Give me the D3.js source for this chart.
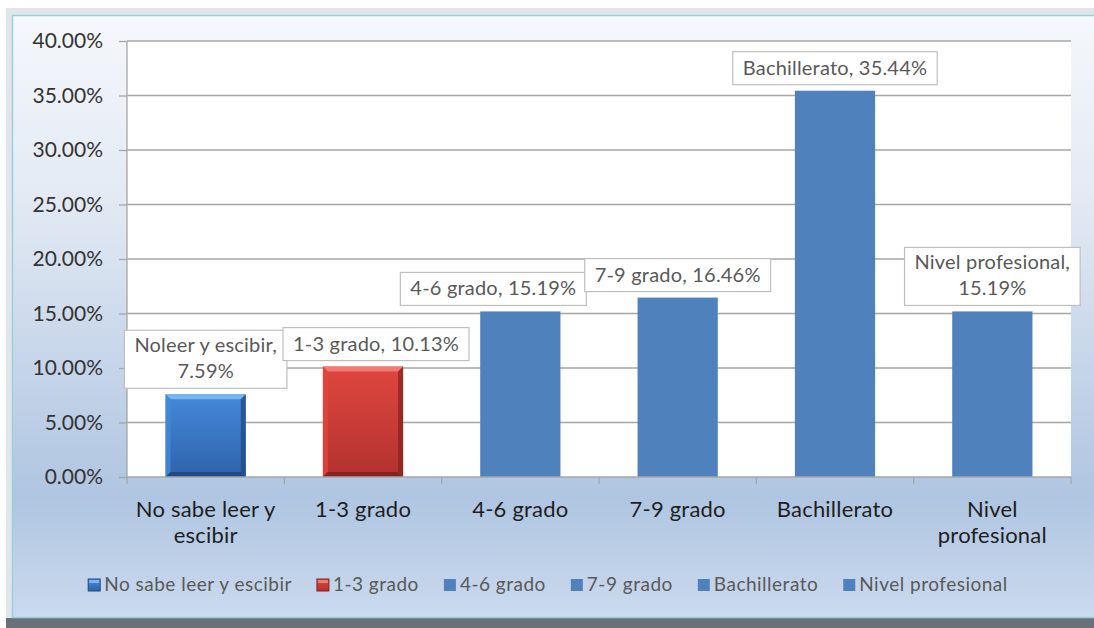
<!DOCTYPE html>
<html>
<head>
<meta charset="utf-8">
<script src="https://cdn.jsdelivr.net/npm/d3@7"></script>
<style>
  body { margin: 0; background: #fff; }
  svg { display: block; font-family: Lato, "Open Sans", sans-serif; }
</style>
</head>
<body>
<div id="grafico"></div>
<script>
// Datos del gráfico
const categorias = ["No sabe leer y escibir", "1-3 grado", "4-6 grado", "7-9 grado", "Bachillerato", "Nivel profesional"];
const valores = [0.0759, 0.1013, 0.1519, 0.1646, 0.3544, 0.1519];
const nombresEtiqueta = ["Noleer y escibir", "1-3 grado", "4-6 grado", "7-9 grado", "Bachillerato", "Nivel profesional"];
const ticksY = [0, 0.05, 0.10, 0.15, 0.20, 0.25, 0.30, 0.35, 0.40];

// estilos de las barras (las dos primeras con bisel)
const estilos = [
    { top: "#4489da", bottom: "#2f63aa", light: "#78b4f2", dark: "#1f4a85", bevel: true },
    { top: "#e0463f", bottom: "#b3322e", light: "#f07a74", dark: "#862320", bevel: true },
    { fill: "#4f81bd" }, { fill: "#4f81bd" }, { fill: "#4f81bd" }, { fill: "#4f81bd" }
];
// pequeños desplazamientos horizontales de las etiquetas (evitar solapes)
const desplazEtiqueta = [0, 13, -27, 0, 0, 0];

const width = 1094, height = 628;
const margin = { left: 127, right: 1071, top: 41, bottom: 477 };

const svg = d3.select("#grafico").append("svg")
    .attr("width", width)
    .attr("height", height);

const defs = svg.append("defs");
const fondo = defs.append("linearGradient").attr("id", "fondo")
    .attr("x1", 0).attr("y1", 0).attr("x2", 0).attr("y2", 1);
fondo.append("stop").attr("offset", "0%").attr("stop-color", "#f5f8fc");
fondo.append("stop").attr("offset", "30%").attr("stop-color", "#e3eaf4");
fondo.append("stop").attr("offset", "80%").attr("stop-color", "#afc5e1");
fondo.append("stop").attr("offset", "100%").attr("stop-color", "#cbdaee");

estilos.forEach((e, i) => {
    if (!e.bevel) return;
    const g = defs.append("linearGradient").attr("id", "barra" + i)
        .attr("x1", 0).attr("y1", 0).attr("x2", 0).attr("y2", 1);
    g.append("stop").attr("offset", "0%").attr("stop-color", e.top);
    g.append("stop").attr("offset", "100%").attr("stop-color", e.bottom);
});

// sombra y marco del gráfico
svg.append("rect").attr("x", 0).attr("y", 0).attr("width", width).attr("height", height).attr("fill", "#ffffff");
svg.append("rect").attr("x", 6).attr("y", 8).attr("width", width).attr("height", height).attr("fill", "#e2e6eb");
svg.append("rect").attr("x", 6).attr("y", 618).attr("width", width).attr("height", 10).attr("fill", "#6b7179");
svg.append("rect").attr("x", 12.5).attr("y", 15.5).attr("width", width).attr("height", 602)
    .attr("fill", "url(#fondo)")
    .attr("stroke", "#98d0dc")
    .attr("stroke-width", 1.5);

const x = d3.scaleBand()
    .domain(categorias)
    .range([margin.left, margin.right])
    .paddingInner(0.49)
    .paddingOuter(0.245);

const y = d3.scaleLinear()
    .domain([0, 0.4])
    .range([margin.bottom, margin.top]);

// área de trazado
svg.append("rect")
    .attr("x", margin.left).attr("y", margin.top)
    .attr("width", margin.right - margin.left)
    .attr("height", margin.bottom - margin.top)
    .attr("fill", "#ffffff");

// líneas de cuadrícula y eje Y
const ejeY = svg.append("g")
    .attr("transform", `translate(${margin.left},0)`)
    .call(d3.axisLeft(y).tickValues(ticksY).tickFormat(d3.format(".2%"))
        .tickSize(8).tickPadding(16));
ejeY.select(".domain").remove();
ejeY.selectAll(".tick line").attr("stroke", "#a6a6a6").attr("stroke-width", 1.3);
ejeY.selectAll(".tick text")
    .attr("fill", "#333333")
    .style("font-size", "21px")
    .style("font-family", "Lato, sans-serif");

svg.append("g").selectAll("line")
    .data(ticksY.filter(d => d > 0))
    .enter().append("line")
    .attr("x1", margin.left).attr("x2", margin.right)
    .attr("y1", d => y(d)).attr("y2", d => y(d))
    .attr("stroke", "#a6a6a6").attr("stroke-width", 1.3);

// barras
const gBarras = svg.append("g");
categorias.forEach((c, i) => {
    const x0 = x(c), w = x.bandwidth();
    const y0 = y(valores[i]), y1 = y(0);
    const e = estilos[i];
    if (!e.bevel) {
        gBarras.append("rect")
            .attr("x", x0).attr("y", y0)
            .attr("width", w).attr("height", y1 - y0)
            .attr("fill", e.fill);
        return;
    }
    const b = 5;
    gBarras.append("rect")
        .attr("x", x0).attr("y", y0)
        .attr("width", w).attr("height", y1 - y0)
        .attr("fill", `url(#barra${i})`);
    const x1 = x0 + w;
    // bisel superior, laterales e inferior
    gBarras.append("polygon")
        .attr("points", [[x0, y0], [x1, y0], [x1 - b, y0 + b], [x0 + b, y0 + b]].join(" "))
        .attr("fill", e.light);
    gBarras.append("polygon")
        .attr("points", [[x0, y0], [x0 + b, y0 + b], [x0 + b, y1 - b], [x0, y1]].join(" "))
        .attr("fill", e.top).attr("opacity", 0.8);
    gBarras.append("polygon")
        .attr("points", [[x1, y0], [x1 - b, y0 + b], [x1 - b, y1 - b], [x1, y1]].join(" "))
        .attr("fill", e.dark).attr("opacity", 0.75);
    gBarras.append("polygon")
        .attr("points", [[x0, y1], [x0 + b, y1 - b], [x1 - b, y1 - b], [x1, y1]].join(" "))
        .attr("fill", e.dark);
});

// eje X
svg.append("line")
    .attr("x1", margin.left).attr("x2", margin.left)
    .attr("y1", margin.top).attr("y2", margin.bottom)
    .attr("stroke", "#a6a6a6").attr("stroke-width", 1.3);
svg.append("line")
    .attr("x1", margin.left).attr("x2", margin.right)
    .attr("y1", margin.bottom).attr("y2", margin.bottom)
    .attr("stroke", "#a6a6a6").attr("stroke-width", 1.3);
svg.append("g").selectAll("line")
    .data(d3.range(categorias.length + 1))
    .enter().append("line")
    .attr("x1", i => margin.left + i * x.step())
    .attr("x2", i => margin.left + i * x.step())
    .attr("y1", margin.bottom).attr("y2", margin.bottom + 7)
    .attr("stroke", "#a6a6a6").attr("stroke-width", 1.3);

// ajuste de texto en varias líneas
function partir(textSel, texto, maxW) {
    const palabras = texto.split(" ");
    const lineas = [];
    let actual = "";
    palabras.forEach(p => {
        const prueba = actual ? actual + " " + p : p;
        textSel.text(prueba);
        if (actual && textSel.node().getComputedTextLength() > maxW) {
            lineas.push(actual);
            actual = p;
        } else {
            actual = prueba;
        }
    });
    lineas.push(actual);
    textSel.text(null);
    return lineas;
}

const gEtiqX = svg.append("g");
categorias.forEach(c => {
    const t = gEtiqX.append("text")
        .attr("text-anchor", "middle")
        .attr("fill", "#1e1e1e")
        .style("font-size", "22px")
        .style("letter-spacing", "0.2px");
    const lineas = partir(t, c, 150);
    lineas.forEach((l, k) => {
        t.append("tspan")
            .attr("x", x(c) + x.bandwidth() / 2)
            .attr("y", 517 + k * 26)
            .text(l);
    });
});

// etiquetas de datos
const fmt = d3.format(".2%");
const gEtiq = svg.append("g");
categorias.forEach((c, i) => {
    const g = gEtiq.append("g");
    const t = g.append("text")
        .attr("text-anchor", "middle")
        .attr("fill", "#595959")
        .style("font-size", "20px")
        .style("letter-spacing", "0.2px");
    const lineas = partir(t, `${nombresEtiqueta[i]}, ${fmt(valores[i])}`, 192);
    const cx = x(c) + x.bandwidth() / 2 + desplazEtiqueta[i];
    const bottom = y(valores[i]) - 6;
    const alto = lineas.length === 1 ? 33 : 58;
    lineas.forEach((l, k) => {
        t.append("tspan")
            .attr("x", cx)
            .attr("y", bottom - 10 - (lineas.length - 1 - k) * 26)
            .text(l);
    });
    const ancho = t.node().getBBox().width + 20;
    g.insert("rect", "text")
        .attr("x", cx - ancho / 2).attr("y", bottom - alto)
        .attr("width", ancho).attr("height", alto)
        .attr("fill", "#ffffff")
        .attr("stroke", "#bfbfbf").attr("stroke-width", 1.2);
});

// leyenda
const leyenda = svg.append("g");
let posX = 0;
const hueco = 25;
categorias.forEach((c, i) => {
    const item = leyenda.append("g").attr("transform", `translate(${posX},0)`);
    const e = estilos[i];
    item.append("rect")
        .attr("x", 0).attr("y", -6)
        .attr("width", 12).attr("height", 12)
        .attr("fill", e.bevel ? `url(#barra${i})` : e.fill)
        .attr("stroke", e.bevel ? e.dark : "none")
        .attr("stroke-width", 1);
    if (e.bevel) {
        item.append("rect").attr("x", 1).attr("y", -5).attr("width", 10).attr("height", 3).attr("fill", e.light);
    }
    const t = item.append("text")
        .attr("x", 16).attr("y", 6)
        .attr("fill", "#595959")
        .style("font-size", "19px")
        .style("letter-spacing", "0.5px")
        .text(c);
    posX += 16 + t.node().getComputedTextLength() + hueco;
});
const anchoLeyenda = posX - hueco;
leyenda.attr("transform", `translate(${548 - anchoLeyenda / 2},585)`);
</script>
</body>
</html>
